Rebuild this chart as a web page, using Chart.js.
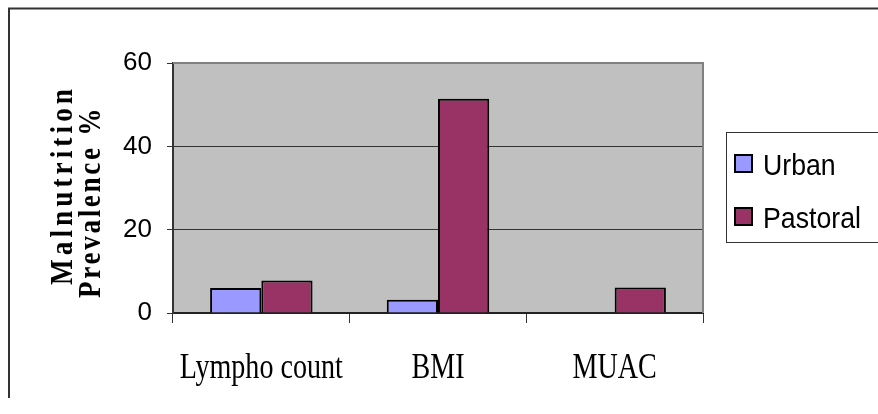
<!DOCTYPE html>
<html>
<head>
<meta charset="utf-8">
<script src="https://cdn.jsdelivr.net/npm/chart.js@4/dist/chart.umd.min.js"></script>
<style>
  html, body { margin: 0; padding: 0; background: #fff; }
  #wrap { width: 878px; height: 414px; position: relative; }
</style>
</head>
<body>
<div id="wrap"><canvas id="chart" width="878" height="414"></canvas></div>
<script>
// values
var categories = ['Lympho count', 'BMI', 'MUAC'];
var urban = [6, 3.2, 0];
var pastoral = [7.8, 51.4, 6.1];
var yTicks = [0, 20, 40, 60];
var titleLines = ['Malnutrition', 'Prevalence %'];

// draw text squeezed along its reading direction (the original fonts are narrow)
function narrowText(ctx, txt, x, y, sx) {
    ctx.save();
    ctx.translate(x, y);
    ctx.scale(sx, 1);
    ctx.fillText(txt, 0, 0);
    ctx.restore();
}

var plotFill = {
    id: 'plotFill',
    beforeDraw: function (chart) {
        var a = chart.chartArea, ctx = chart.ctx;
        ctx.save();
        ctx.fillStyle = '#c0c0c0';
        ctx.fillRect(a.left, a.top, a.right - a.left, a.bottom - a.top);
        ctx.restore();
    },
    afterDraw: function (chart) {
        var a = chart.chartArea, ctx = chart.ctx;
        ctx.save();
        // outer frame (left + top only visible)
        ctx.strokeStyle = '#333';
        ctx.lineWidth = 2;
        ctx.beginPath();
        ctx.moveTo(9, 398);
        ctx.lineTo(9, 8.5);
        ctx.lineTo(878, 8.5);
        ctx.stroke();

        // top + right plot border
        ctx.strokeStyle = '#808080';
        ctx.lineWidth = 2;
        ctx.beginPath();
        ctx.moveTo(a.left, a.top);
        ctx.lineTo(a.right, a.top);
        ctx.lineTo(a.right, a.bottom);
        ctx.stroke();

        // category labels
        var xs = chart.scales.x;
        ctx.fillStyle = '#000';
        ctx.font = '36px "Liberation Serif", "Times New Roman", serif';
        ctx.textAlign = 'center';
        ctx.textBaseline = 'alphabetic';
        categories.forEach(function (c, i) {
            narrowText(ctx, c, xs.getPixelForValue(i), 378, 0.78);
        });

        // rotated y title
        ctx.font = 'bold 32px "Liberation Serif", "Times New Roman", serif';
        var mid = (a.top + a.bottom) / 2;
        var spots = [[72, mid - 3, '4.8px'], [100, mid + 14, '3.1px']];
        titleLines.forEach(function (t, i) {
            ctx.save();
            ctx.letterSpacing = spots[i][2];
            ctx.translate(spots[i][0], spots[i][1]);
            ctx.rotate(-Math.PI / 2);
            ctx.scale(0.85, 1);
            ctx.fillText(t, 0, 0);
            ctx.restore();
        });

        // legend
        ctx.strokeStyle = '#333';
        ctx.lineWidth = 1;
        ctx.strokeRect(726.5, 132.5, 160, 110);
        ctx.font = '30px "Liberation Sans", Arial, sans-serif';
        ctx.textAlign = 'left';
        ctx.textBaseline = 'alphabetic';
        chart.data.datasets.forEach(function (ds, i) {
            var cy = 164 + i * 53;
            ctx.fillStyle = ds.backgroundColor;
            ctx.fillRect(735, cy - 9, 17, 17);
            ctx.lineWidth = 2;
            ctx.strokeStyle = '#000';
            ctx.strokeRect(735, cy - 9, 17, 17);
            ctx.fillStyle = '#000';
            narrowText(ctx, ds.label, 763, cy + 11, 0.89);
        });
        ctx.restore();
    }
};

new Chart(document.getElementById('chart'), {
    type: 'bar',
    data: {
        labels: categories,
        datasets: [
            {
                label: 'Urban',
                data: urban,
                backgroundColor: '#9999ff',
                borderColor: '#000',
                borderWidth: 2
            },
            {
                label: 'Pastoral',
                data: pastoral,
                backgroundColor: '#993366',
                borderColor: '#000',
                borderWidth: 2
            }
        ]
    },
    options: {
        responsive: false,
        animation: false,
        layout: { padding: { top: 63, right: 175, bottom: 0, left: 0 } },
        datasets: {
            bar: { categoryPercentage: 0.58, barPercentage: 1 }
        },
        plugins: {
            legend: { display: false },
            tooltip: { enabled: false }
        },
        scales: {
            x: {
                afterFit: function (s) { s.height = 101; },
                grid: {
                    offset: true,
                    drawOnChartArea: false,
                    tickLength: 10,
                    color: '#333',
                    lineWidth: 1
                },
                border: { color: '#222', width: 2 },
                ticks: { display: false }
            },
            y: {
                min: 0,
                max: 60,
                afterFit: function (s) { s.width = 173; },
                afterBuildTicks: function (s) {
                    s.ticks = yTicks.map(function (v) { return { value: v }; });
                },
                grid: {
                    tickLength: 6,
                    color: '#333',
                    lineWidth: 1
                },
                border: { color: '#333', width: 2 },
                ticks: {
                    padding: 15,
                    color: '#000',
                    font: { family: '"Liberation Sans", Arial, sans-serif', size: 26 }
                }
            }
        }
    },
    plugins: [plotFill]
});
</script>
</body>
</html>
